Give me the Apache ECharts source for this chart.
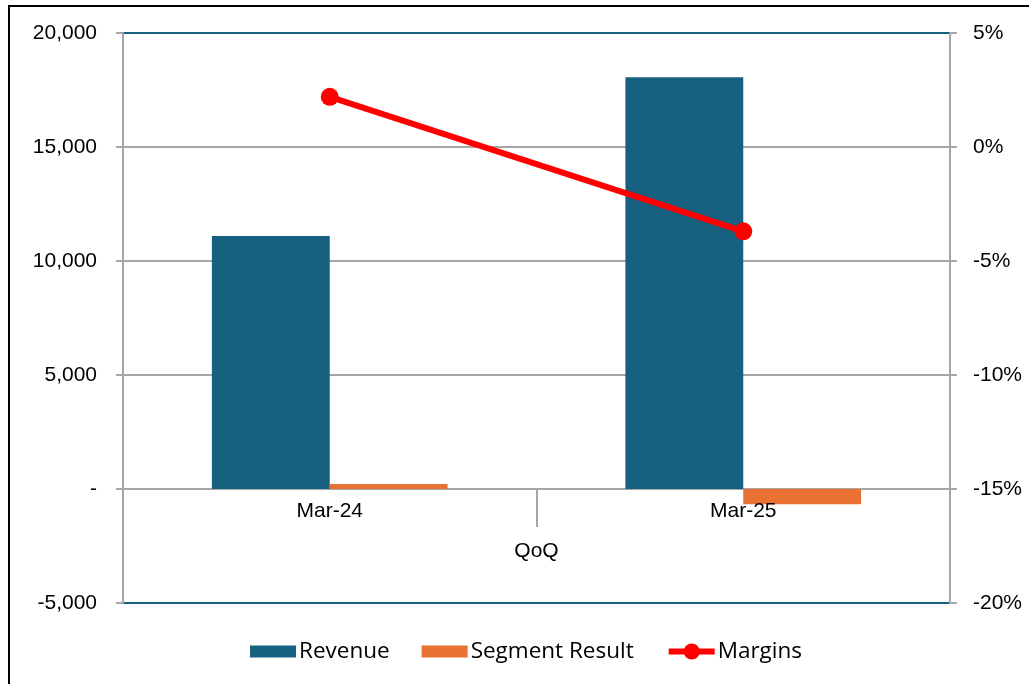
<!DOCTYPE html>
<html>
<head>
<meta charset="utf-8">
<script src="https://cdn.jsdelivr.net/npm/echarts@6/dist/echarts.min.js"></script>
<style>
  html, body { margin: 0; padding: 0; background: #fff; overflow: hidden; }
  #frame { position: absolute; left: 8px; top: 5px; width: 1100px; height: 760px; border: 2px solid #000; box-sizing: border-box; }
  #chart { position: absolute; left: 0; top: 0; width: 1029px; height: 684px; }
</style>
</head>
<body>
<div id="frame"></div>
<div id="chart"></div>
<script>
const categories = ['Mar-24', 'Mar-25'];
const groupLabels = ['QoQ'];
const revenue = [11100, 18060];
const segmentResult = [220, -670];
const margins = [2.2, -3.7];   // percent
const leftTicks = { min: -5000, max: 20000, interval: 5000 };
const rightTicks = { min: -20, max: 5, interval: 5 };

const chart = echarts.init(document.getElementById('chart'), null, { renderer: 'canvas' });
const font = 'Liberation Sans, Arial, sans-serif';
const gray = '#A6A6A6';
const blue = '#17607F';
// rect legend swatch 46x12 centred in a 46x20 box
const swatch = 'path://M0,0L0,0Z M0,4L46,4L46,16L0,16Z M46,20L46,20Z';

const option = {
  animation: false,
  backgroundColor: 'transparent',
  grid: { left: 123, right: 79, top: 33, bottom: 81, containLabel: false },
  legend: {
    bottom: 16,
    left: 245,
    itemWidth: 46,
    itemHeight: 20,
    itemGap: 32,
    lineStyle: { width: 6 },
    textStyle: { fontFamily: 'Open Sans, Lato, sans-serif', fontSize: 22.5, color: '#000', padding: [0, 0, 0, -2] },
    data: [
      { name: 'Revenue', icon: swatch },
      { name: 'Segment Result', icon: swatch },
      { name: 'Margins' }
    ]
  },
  xAxis: [
    {
      type: 'category',
      data: categories,
      axisLine: { onZero: true, lineStyle: { color: gray, width: 2 } },
      axisTick: { show: true, length: 38, lineStyle: { color: gray, width: 2 } },
      axisLabel: { show: false },
      splitLine: { show: false }
    },
    {
      type: 'category',
      data: categories,
      position: 'bottom',
      offset: -110,
      z: 10,
      axisLine: { show: false },
      axisTick: { show: false },
      axisLabel: { margin: 8, fontFamily: font, fontSize: 21, color: '#000' },
      splitLine: { show: false }
    },
    {
      type: 'category',
      data: groupLabels,
      position: 'bottom',
      offset: -70,
      axisLine: { show: false },
      axisTick: { show: false },
      axisLabel: { margin: 8, fontFamily: font, fontSize: 21, color: '#000' },
      splitLine: { show: false }
    }
  ],
  yAxis: [
    {
      type: 'value',
      min: leftTicks.min, max: leftTicks.max, interval: leftTicks.interval,
      axisLine: { show: true, onZero: false, lineStyle: { color: gray, width: 2 } },
      axisTick: { show: true, length: 7, lineStyle: { color: gray, width: 2 } },
      axisLabel: {
        margin: 26, fontFamily: font, fontSize: 21, color: '#000',
        formatter: v => v === 0 ? '-' : (v < 0 ? '-' : '') + Math.abs(v).toLocaleString('en-US')
      },
      splitLine: { show: true, lineStyle: { color: [blue, gray, gray, gray, gray, blue], width: 2 } }
    },
    {
      type: 'value',
      min: rightTicks.min, max: rightTicks.max, interval: rightTicks.interval,
      position: 'right',
      axisLine: { show: true, onZero: false, lineStyle: { color: gray, width: 2 } },
      axisTick: { show: true, length: 7, lineStyle: { color: gray, width: 2 } },
      axisLabel: { margin: 23, fontFamily: font, fontSize: 21, color: '#000', formatter: '{value}%' },
      splitLine: { show: false }
    }
  ],
  series: [
    {
      name: 'Revenue', type: 'bar', data: revenue,
      itemStyle: { color: blue },
      barGap: '0%', barCategoryGap: '43%'
    },
    {
      name: 'Segment Result', type: 'bar', data: segmentResult,
      itemStyle: { color: '#E97132' }
    },
    {
      name: 'Margins', type: 'line', yAxisIndex: 1, data: margins,
      symbol: 'circle', symbolSize: 18,
      lineStyle: { color: '#FF0000', width: 6 },
      itemStyle: { color: '#FF0000' },
      z: 5
    }
  ]
};
chart.setOption(option);
</script>
</body>
</html>
